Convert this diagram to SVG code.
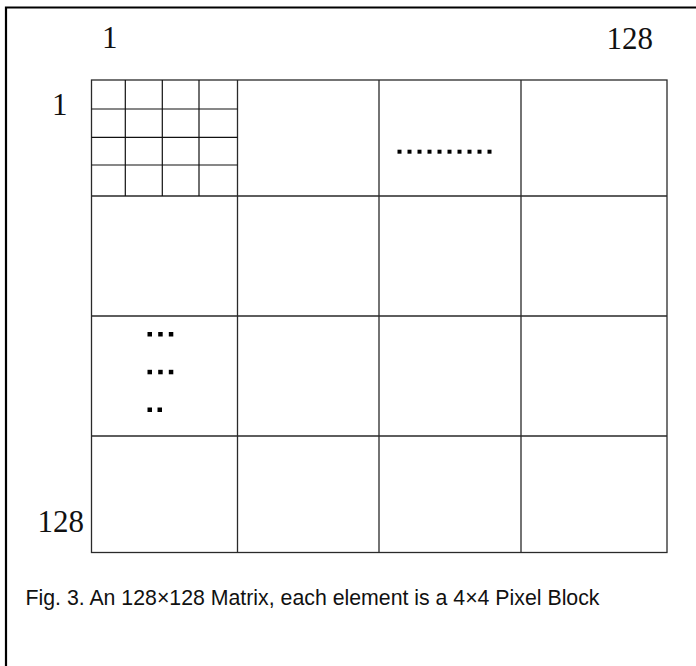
<svg xmlns="http://www.w3.org/2000/svg" width="696" height="666" viewBox="0 0 696 666">
<style>
.frame{fill:none;stroke:#000;stroke-width:2.2}
.grid{fill:none;stroke:#2a2a2a;stroke-width:1.3}
.sub{fill:none;stroke:#111;stroke-width:1.2}
.lbl{font-family:"Liberation Serif","Times New Roman",serif;font-size:31px;fill:#111}
.cap{font-family:"Liberation Sans",Arial,sans-serif;font-size:21.3px;fill:#111}
.dot{fill:#000}
</style>
<rect width="696" height="666" fill="#fff"/>
<path class="frame" d="M6,700 V7.5 H700"/>
<g id="matrix">
<rect class="grid" x="91.5" y="80" width="575.5" height="472.5"/>
<path class="grid" d="M237.5,80 V552.5 M379,80 V552.5 M521,80 V552.5 M91.5,196 H667 M91.5,316 H667 M91.5,436 H667"/>
</g>
<g id="pixel-block">
<path class="sub" d="M125.3,80 V196 M162.3,80 V196 M199,80 V196 M91.5,109 H237.5 M91.5,137.3 H237.5 M91.5,165 H237.5"/>
</g>
<g id="dots-row">
<rect class="dot" x="397.5" y="149.7" width="4" height="4"/>
<rect class="dot" x="407.5" y="149.7" width="4" height="4"/>
<rect class="dot" x="417.5" y="149.7" width="4" height="4"/>
<rect class="dot" x="427.5" y="149.7" width="4" height="4"/>
<rect class="dot" x="437.5" y="149.7" width="4" height="4"/>
<rect class="dot" x="447.5" y="149.7" width="4" height="4"/>
<rect class="dot" x="457.5" y="149.7" width="4" height="4"/>
<rect class="dot" x="467.5" y="149.7" width="4" height="4"/>
<rect class="dot" x="477.5" y="149.7" width="4" height="4"/>
<rect class="dot" x="487.5" y="149.7" width="4" height="4"/>
</g>
<g id="dots-col">
<rect class="dot" x="147.5" y="332" width="4.5" height="4.5"/>
<rect class="dot" x="158.2" y="332" width="4.5" height="4.5"/>
<rect class="dot" x="168.8" y="332" width="4.5" height="4.5"/>
<rect class="dot" x="147.5" y="369.8" width="4.5" height="4.5"/>
<rect class="dot" x="158.2" y="369.8" width="4.5" height="4.5"/>
<rect class="dot" x="168.8" y="369.8" width="4.5" height="4.5"/>
<rect class="dot" x="147.5" y="407.5" width="4.5" height="4.5"/>
<rect class="dot" x="157.5" y="407.5" width="4.5" height="4.5"/>
</g>
<g id="labels">
<text class="lbl" x="102" y="48">1</text>
<text class="lbl" x="653" y="49" text-anchor="end">128</text>
<text class="lbl" x="52" y="115">1</text>
<text class="lbl" x="84" y="532" text-anchor="end">128</text>
</g>
<text class="cap" x="25.5" y="605" textLength="574" lengthAdjust="spacing">Fig. 3. An 128×128 Matrix, each element is a 4×4 Pixel Block</text>
</svg>
